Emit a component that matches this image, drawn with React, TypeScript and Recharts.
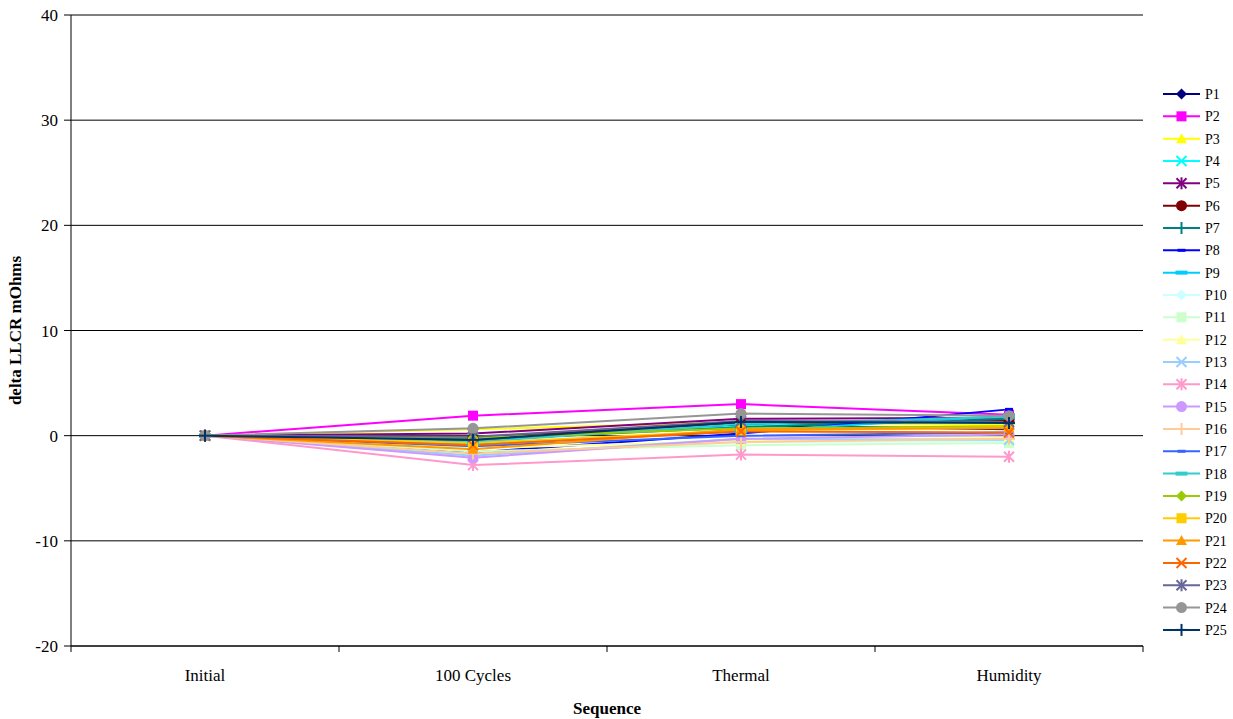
import React from 'react';
import { LineChart, Line, XAxis, YAxis, CartesianGrid } from 'recharts';

const categories = ['Initial', '100 Cycles', 'Thermal', 'Humidity'];

const seriesNames = [
  'P1', 'P2', 'P3', 'P4', 'P5', 'P6', 'P7', 'P8', 'P9', 'P10', 'P11', 'P12', 'P13',
  'P14', 'P15', 'P16', 'P17', 'P18', 'P19', 'P20', 'P21', 'P22', 'P23', 'P24', 'P25',
];

const seriesColors = [
  '#000080', '#FF00FF', '#FFFF00', '#00FFFF', '#800080', '#800000', '#008080', '#0000FF',
  '#00CCFF', '#CCFFFF', '#CCFFCC', '#FFFF99', '#99CCFF', '#FF99CC', '#CC99FF', '#FFCC99',
  '#3366FF', '#33CCCC', '#99CC00', '#FFCC00', '#FF9900', '#FF6600', '#666699', '#969696',
  '#003366',
];

const seriesMarkers = [
  'diamond', 'square', 'triangle', 'x', 'star', 'circle', 'plus', 'dash', 'longdash',
  'diamond', 'square', 'triangle', 'x', 'star', 'circle', 'plus', 'dash', 'longdash',
  'diamond', 'square', 'triangle', 'x', 'star', 'circle', 'plus',
];

// delta LLCR (mOhms) per sequence step: Initial, 100 Cycles, Thermal, Humidity
const P1 = [0, -0.5, 1.0, 0.6];
const P2 = [0, 1.9, 3.0, 2.0];
const P3 = [0, 0.6, 1.3, 1.0];
const P4 = [0, -0.3, 0.9, 1.5];
const P5 = [0, 0.2, 1.6, 1.7];
const P6 = [0, -0.2, 1.2, 1.4];
const P7 = [0, -0.4, 0.8, 1.6];
const P8 = [0, -1.6, 0.2, 2.5];
const P9 = [0, -0.8, 0.4, 1.9];
const P10 = [0, -1.8, -0.6, -0.5];
const P11 = [0, -1.5, -0.9, -0.7];
const P12 = [0, -1.2, -0.5, -0.2];
const P13 = [0, -1.9, -0.3, -0.4];
const P14 = [0, -2.8, -1.8, -2.0];
const P15 = [0, -2.1, -0.3, 0.1];
const P16 = [0, -1.7, -0.6, -0.3];
const P17 = [0, -1.0, 0.0, 0.3];
const P18 = [0, -0.6, 1.1, 1.8];
const P19 = [0, -0.2, 0.7, 0.9];
const P20 = [0, -0.7, 0.5, 0.8];
const P21 = [0, -1.3, 0.6, 0.7];
const P22 = [0, -0.9, 0.4, 0.3];
const P23 = [0, -0.1, 1.4, 1.3];
const P24 = [0, 0.7, 2.1, 1.9];
const P25 = [0, -0.4, 1.3, 1.2];

const seriesValues = [
  P1, P2, P3, P4, P5, P6, P7, P8, P9, P10, P11, P12, P13,
  P14, P15, P16, P17, P18, P19, P20, P21, P22, P23, P24, P25,
];

const yTicks = [-20, -10, 0, 10, 20, 30, 40];

const data = categories.map((cat, i) => {
  const row: Record<string, any> = { name: cat };
  seriesNames.forEach((s, j) => { row[s] = seriesValues[j][i]; });
  return row;
});

const W = 1233;
const H = 719;
const M = { top: 15, right: 90, left: 0, bottom: 0 };
const Y_AXIS_W = 71;
const X_AXIS_H = 73;
const HALF_BAND = (W - M.right - Y_AXIS_W) / categories.length / 2;
const FONT = '"Liberation Serif", "Times New Roman", serif';

function Marker({ shape, cx, cy, color }: { shape: string; cx: number; cy: number; color: string }) {
  switch (shape) {
    case 'diamond':
      return <polygon points={`${cx},${cy - 5.5} ${cx + 5.5},${cy} ${cx},${cy + 5.5} ${cx - 5.5},${cy}`} fill={color} />;
    case 'square':
      return <rect x={cx - 5} y={cy - 5} width={10} height={10} fill={color} />;
    case 'triangle':
      return <polygon points={`${cx},${cy - 5.5} ${cx + 5.5},${cy + 4.5} ${cx - 5.5},${cy + 4.5}`} fill={color} />;
    case 'x':
      return (
        <g stroke={color} strokeWidth={2}>
          <line x1={cx - 5} y1={cy - 5} x2={cx + 5} y2={cy + 5} />
          <line x1={cx - 5} y1={cy + 5} x2={cx + 5} y2={cy - 5} />
        </g>
      );
    case 'star':
      return (
        <g stroke={color} strokeWidth={2}>
          <line x1={cx - 5} y1={cy - 5} x2={cx + 5} y2={cy + 5} />
          <line x1={cx - 5} y1={cy + 5} x2={cx + 5} y2={cy - 5} />
          <line x1={cx} y1={cy - 6} x2={cx} y2={cy + 6} />
        </g>
      );
    case 'circle':
      return <circle cx={cx} cy={cy} r={5.5} fill={color} />;
    case 'plus':
      return (
        <g stroke={color} strokeWidth={2}>
          <line x1={cx - 6} y1={cy} x2={cx + 6} y2={cy} />
          <line x1={cx} y1={cy - 6} x2={cx} y2={cy + 6} />
        </g>
      );
    case 'dash':
      return <rect x={cx - 4} y={cy - 1.5} width={8} height={3} fill={color} />;
    case 'longdash':
      return <rect x={cx - 6} y={cy - 2} width={12} height={4} fill={color} />;
    default:
      return null;
  }
}

function XTick(props: any) {
  const { x, y, payload, index } = props;
  return (
    <g>
      {index === 0 && <line x1={x - HALF_BAND} x2={x - HALF_BAND} y1={y} y2={y + 6} stroke="#000" />}
      <line x1={x + HALF_BAND} x2={x + HALF_BAND} y1={y} y2={y + 6} stroke="#000" />
      <text x={x} y={y + 35} textAnchor="middle" fontSize={17} fontFamily={FONT} fill="#000">
        {payload.value}
      </text>
    </g>
  );
}

function LegendBox() {
  const step = 22.33;
  return (
    <svg width={75} height={step * seriesNames.length + 10} style={{ position: 'absolute', left: 1160, top: 86, overflow: 'visible' }}>
      {seriesNames.map((s, i) => {
        const cy = 8 + i * step;
        return (
          <g key={s}>
            <line x1={3} x2={40} y1={cy} y2={cy} stroke={seriesColors[i]} strokeWidth={2} />
            <Marker shape={seriesMarkers[i]} cx={21.5} cy={cy} color={seriesColors[i]} />
            <text x={45} y={cy + 5} fontSize={14} fontFamily={FONT} fill="#000">{s}</text>
          </g>
        );
      })}
    </svg>
  );
}

export default function App() {
  return (
    <div style={{ position: 'absolute', left: 0, top: 0, width: W, height: H, background: '#fff' }}>
      <LineChart width={W} height={H} data={data} margin={M}>
        <CartesianGrid vertical={false} stroke="#000" strokeDasharray="" />
        <XAxis
          dataKey="name"
          height={X_AXIS_H}
          padding={{ left: HALF_BAND, right: HALF_BAND }}
          axisLine={{ stroke: '#000' }}
          tickLine={false}
          tickSize={0}
          tickMargin={0}
          tick={<XTick />}
          interval={0}
          label={{
            value: 'Sequence',
            position: 'insideBottom',
            offset: 5,
            style: { fontSize: 17, fontWeight: 'bold', fontFamily: FONT, fill: '#000' },
          }}
        />
        <YAxis
          width={Y_AXIS_W}
          domain={[-20, 40]}
          ticks={yTicks}
          interval={0}
          axisLine={{ stroke: '#000' }}
          tickLine={{ stroke: '#000' }}
          tickSize={7}
          tickMargin={6}
          tick={{ fontSize: 17, fontFamily: FONT, fill: '#000' }}
          label={{
            value: 'delta LLCR mOhms',
            angle: -90,
            position: 'insideLeft',
            offset: 15,
            style: { textAnchor: 'middle', fontSize: 17, fontWeight: 'bold', fontFamily: FONT, fill: '#000' },
          }}
        />
        {seriesNames.map((s, i) => (
          <Line
            key={s}
            type="linear"
            dataKey={s}
            stroke={seriesColors[i]}
            strokeWidth={2}
            isAnimationActive={false}
            activeDot={false}
            dot={(p: any) => (
              <Marker key={`${s}-${p.index}`} shape={seriesMarkers[i]} cx={p.cx} cy={p.cy} color={seriesColors[i]} />
            )}
          />
        ))}
      </LineChart>
      <LegendBox />
    </div>
  );
}
